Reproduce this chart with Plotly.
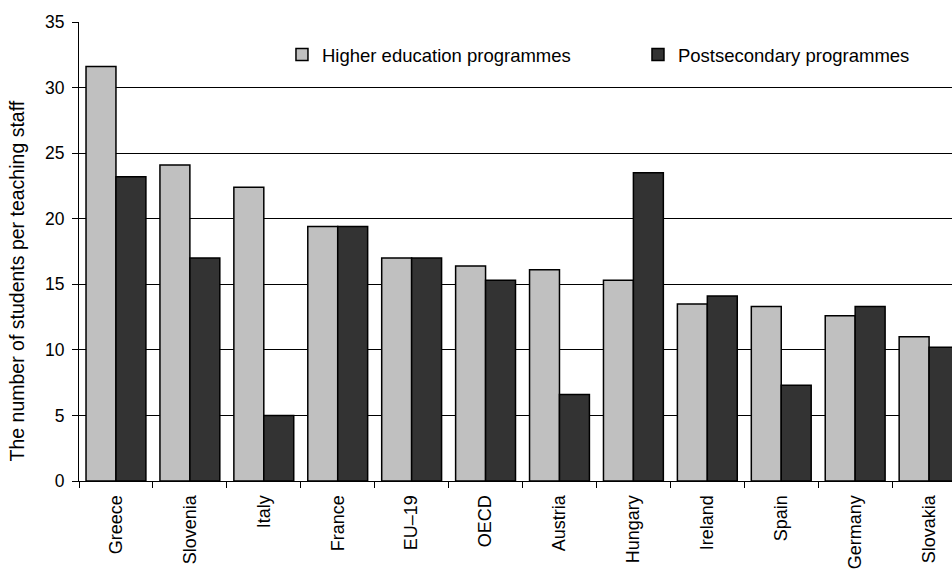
import plotly.graph_objects as go

# Student / teaching-staff ratios by country
countries = ["Greece", "Slovenia", "Italy", "France", "EU\u201319", "OECD",
             "Austria", "Hungary", "Ireland", "Spain", "Germany", "Slovakia"]
higher_ed = [31.6, 24.1, 22.4, 19.4, 17.0, 16.4, 16.1, 15.3, 13.5, 13.3, 12.6, 11.0]
postsecondary = [23.2, 17.0, 5.0, 19.4, 17.0, 15.3, 6.6, 23.5, 14.1, 7.3, 13.3, 10.2]
y_ticks = [0, 5, 10, 15, 20, 25, 30, 35]
y_title = "The number of students per teaching staff"

FONT = "Liberation Sans, Arial, sans-serif"

fig = go.Figure()
fig.add_trace(go.Bar(
    name="Higher education programmes",
    x=countries, y=higher_ed, legend="legend",
    marker=dict(color="#c0c0c0", line=dict(color="#000000", width=1.5)),
))
fig.add_trace(go.Bar(
    name="Postsecondary programmes",
    x=countries, y=postsecondary, legend="legend2",
    marker=dict(color="#333333", line=dict(color="#000000", width=1.5)),
))

legend_style = dict(
    orientation="h", yanchor="middle", xanchor="left", y=0.928,
    bgcolor="rgba(0,0,0,0)", font=dict(size=18.5, family=FONT),
    itemclick=False, itemdoubleclick=False,
)

fig.update_layout(
    width=952, height=569,
    margin=dict(l=79, r=0, t=22, b=88),
    paper_bgcolor="white", plot_bgcolor="white",
    barmode="group", bargap=0.19, bargroupgap=0,
    font=dict(family=FONT, size=17, color="#000000"),
    showlegend=True,
    legend=dict(x=0.2325, **legend_style),
    legend2=dict(x=0.6403, **legend_style),
    xaxis=dict(
        range=[-0.5, 11.31],
        showline=True, linecolor="#000000", linewidth=1,
        ticks="outside", tickson="boundaries", ticklen=6, tickcolor="#000000",
        tickangle=-90, tickfont=dict(size=18, family=FONT),
        ticklabelstandoff=6,
        showgrid=False,
    ),
    yaxis=dict(
        range=[0, 35], tickvals=y_ticks,
        showline=True, linecolor="#000000", linewidth=1,
        ticks="outside", ticklen=6, tickcolor="#000000",
        showgrid=True, gridcolor="#000000", gridwidth=1,
        zeroline=False,
        tickfont=dict(size=17.5, family=FONT),
        ticklabelstandoff=4,
    ),
    annotations=[dict(
        text=y_title, textangle=-90, showarrow=False,
        xref="paper", yref="paper", x=-0.0715, y=0.436,
        xanchor="center", yanchor="middle",
        font=dict(size=19.5, family=FONT, color="#000000"),
    )],
)

fig.write_html("out.html")
